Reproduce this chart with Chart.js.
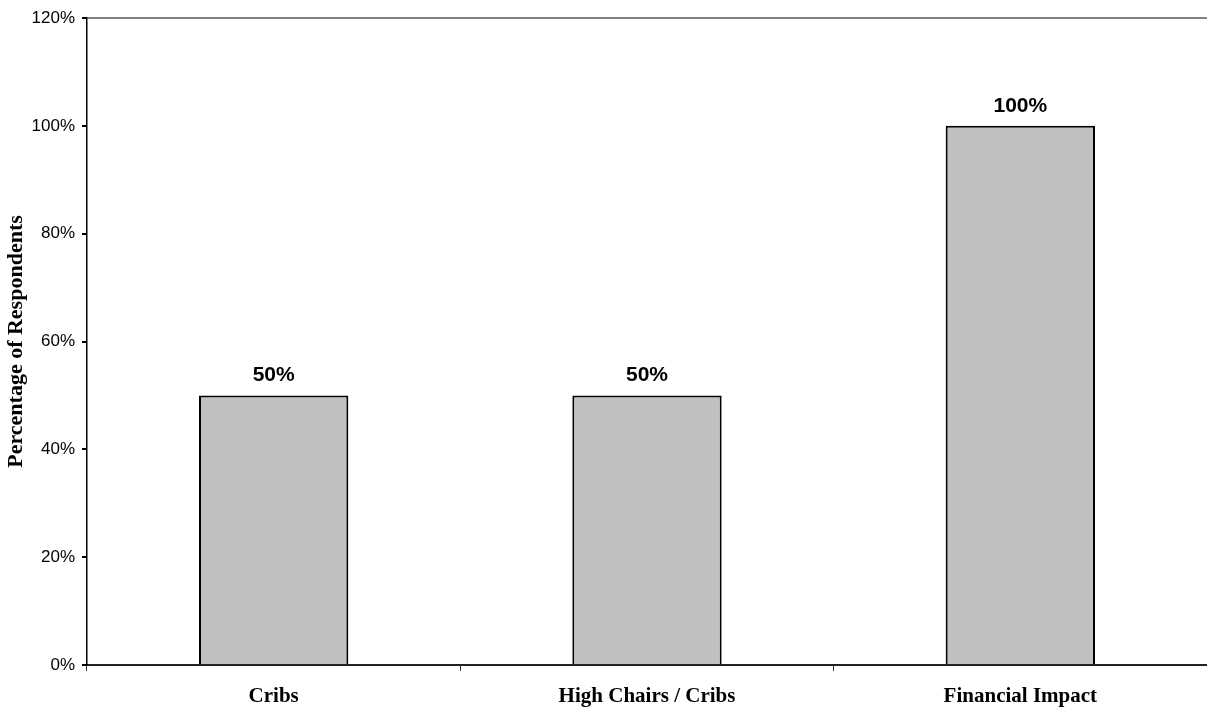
<!DOCTYPE html>
<html>
<head>
<meta charset="utf-8">
<script src="https://cdn.jsdelivr.net/npm/chart.js@4.4.1/dist/chart.umd.min.js"></script>
<style>
  html, body { margin: 0; padding: 0; background: #fff; }
  #chart { display: block; }
</style>
</head>
<body>
<canvas id="chart" width="1207" height="713"></canvas>
<script>
const categories = ['Cribs', 'High Chairs / Cribs', 'Financial Impact'];
const respondents = [50, 50, 100];
const yTicks = [0, 20, 40, 60, 80, 100, 120];

const ctx = document.querySelector('#chart');

// write the percentage above each bar
const barLabels = {
  id: 'barLabels',
  afterDatasetsDraw(chart) {
    const c = chart.ctx;
    const meta = chart.getDatasetMeta(0);
    c.save();
    c.font = 'bold 21px "Liberation Sans", Arial, sans-serif';
    c.fillStyle = '#000';
    c.textAlign = 'center';
    c.textBaseline = 'middle';
    meta.data.forEach((bar, i) => {
      c.fillText(respondents[i] + '%', bar.x, bar.y - 20);
    });
    c.restore();
  }
};

const newChart = new Chart(ctx, {
  type: 'bar',
  data: {
    labels: categories,
    datasets: [{
      label: 'Percentage of Respondents',
      data: respondents,
      backgroundColor: '#c0c0c0',
      borderColor: '#000',
      borderWidth: 2,
      barPercentage: 0.4,
      categoryPercentage: 1
    }]
  },
  options: {
    responsive: false,
    animation: false,
    layout: { padding: { top: 18, left: 0, right: 0, bottom: 0 } },
    plugins: {
      legend: { display: false },
      tooltip: { enabled: false }
    },
    scales: {
      x: {
        afterFit(scale) { scale.height = 48; },
        grid: {
          offset: true,
          drawOnChartArea: false,
          tickLength: 6,
          tickColor: '#333'
        },
        border: { color: '#222', width: 2 },
        ticks: {
          color: '#000',
          padding: 13,
          font: { family: '"Liberation Serif", "Times New Roman", serif', size: 21, weight: 'bold' }
        }
      },
      y: {
        min: 0,
        max: 120,
        afterFit(scale) { scale.width = 87; },
        afterBuildTicks(scale) { scale.ticks = yTicks.map(v => ({ value: v })); },
        grid: {
          color: (c) => c.tick && c.tick.value === 120 ? '#808080' : 'rgba(0,0,0,0)',
          lineWidth: 2,
          tickLength: 5,
          tickColor: '#000'
        },
        border: { color: '#000', width: 1.5 },
        ticks: {
          color: '#000',
          padding: 7,
          font: { family: '"Liberation Sans", Arial, sans-serif', size: 17 },
          callback: (v) => v + '%'
        },
        title: {
          display: true,
          text: 'Percentage of Respondents',
          color: '#000',
          padding: { top: 3, bottom: 0 },
          font: { family: '"Liberation Serif", "Times New Roman", serif', size: 22, weight: 'bold', lineHeight: 1.2 }
        }
      }
    }
  },
  plugins: [barLabels]
});
</script>
</body>
</html>
